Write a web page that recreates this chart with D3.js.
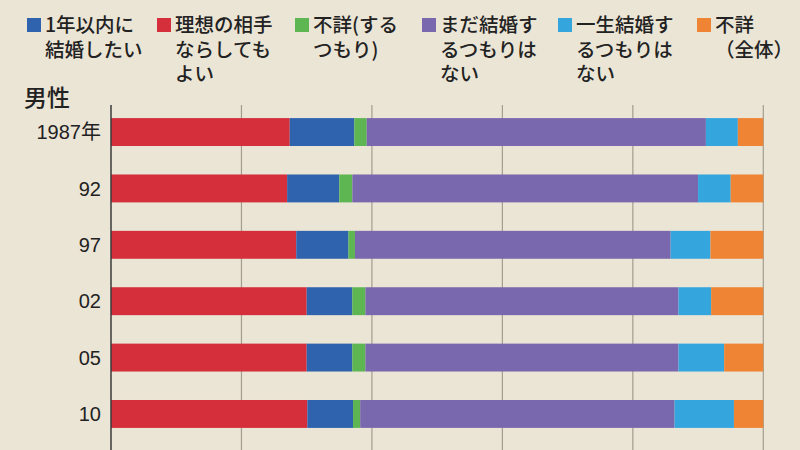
<!DOCTYPE html>
<html><head><meta charset="utf-8">
<script src="https://cdn.jsdelivr.net/npm/d3@7"></script>
<style>
html,body{margin:0;padding:0;background:#ebe5d6;}
svg{display:block;font-family:"Noto Sans CJK JP","Noto Sans",sans-serif;}
</style></head><body>
<svg id="c" width="800" height="450"></svg>
<script>
const years = ["1987年","92","97","02","05","10"];
const seriesNames = ["理想の相手ならしてもよい","1年以内に結婚したい","不詳(するつもり)","まだ結婚するつもりはない","一生結婚するつもりはない","不詳(全体)"];
const idealOK   = [27.4, 27.0, 28.4, 30.0, 30.0, 30.1];
const withinYear= [ 9.9,  8.0,  8.0,  7.0,  7.0,  7.0];
const unkIntend = [ 1.9,  2.0,  1.0,  2.0,  2.0,  1.1];
const notYet    = [52.0, 53.0, 48.4, 48.0, 48.0, 48.2];
const never     = [ 4.9,  5.0,  6.1,  5.0,  7.0,  9.1];
const unkAll    = [ 3.9,  5.0,  8.1,  8.0,  6.0,  4.5];
const colors = ["#d42f3a","#2f63ad","#5db652","#7a68ae","#34a6dd","#ef8434"];
const legendLabels = [
  {c:1, lines:["1年以内に","結婚したい"]},
  {c:0, lines:["理想の相手","ならしても","よい"]},
  {c:2, lines:["不詳(する","つもり)"]},
  {c:3, lines:["まだ結婚す","るつもりは","ない"]},
  {c:4, lines:["一生結婚す","るつもりは","ない"]},
  {c:5, lines:["不詳","（全体）"]}
];
const xTicks = [0,20,40,60,80,100];

const svg = d3.select("#c");
const seriesArr = [idealOK, withinYear, unkIntend, notYet, never, unkAll];
const data = years.map((y,i)=>{const o={year:y}; seriesNames.forEach((s,k)=>o[s]=seriesArr[k][i]); return o;});
const stack = d3.stack().keys(seriesNames)(data);

const x = d3.scaleLinear().domain([0,100]).range([111,763.3]);
const y = d3.scaleBand().domain(years).range([104,442]).paddingInner(0.505).paddingOuter(0.25);

// gridlines
svg.append("g").selectAll("line").data(xTicks.slice(1)).join("line")
  .attr("x1",d=>x(d)).attr("x2",d=>x(d)).attr("y1",105).attr("y2",450)
  .attr("stroke","#a39d90").attr("stroke-width",1.2);

// bars
svg.append("g").selectAll("g").data(stack).join("g")
  .attr("fill",(d,i)=>colors[i])
  .selectAll("rect").data(d=>d).join("rect")
  .attr("x",d=>x(d[0])).attr("width",d=>x(d[1])-x(d[0]))
  .attr("y",d=>y(d.data.year)).attr("height",y.bandwidth());

// left axis
svg.append("line").attr("x1",x(0)).attr("x2",x(0)).attr("y1",105).attr("y2",450)
  .attr("stroke","#3a3a3a").attr("stroke-width",1.5);

// y labels
svg.append("g").selectAll("text").data(years).join("text")
  .attr("x",101).attr("y",d=>y(d)+y.bandwidth()/2).attr("dy","0.36em")
  .attr("text-anchor","end").attr("font-size",20).attr("fill","#222")
  .style("font-family","'Helvetica','Liberation Sans','Noto Sans CJK JP',sans-serif")
  .text(d=>d);

svg.append("text").attr("x",24).attr("y",106).attr("font-size",23).attr("font-weight",500)
  .attr("fill","#222").text("男性");

// legend
const legX = [27,157,295,422,558,697];
const lg = svg.append("g").selectAll("g").data(legendLabels).join("g")
  .attr("transform",(d,i)=>`translate(${legX[i]},0)`);
lg.append("rect").attr("x",0).attr("y",18).attr("width",14).attr("height",14).attr("fill",d=>colors[d.c]);
lg.each(function(d){
  const t = d3.select(this).append("text").attr("font-size",19.5).attr("font-weight",500).attr("fill","#222");
  d.lines.forEach((l,j)=>t.append("tspan").attr("x",18).attr("y",32+j*24.5).text(l));
});
</script>
</body></html>
